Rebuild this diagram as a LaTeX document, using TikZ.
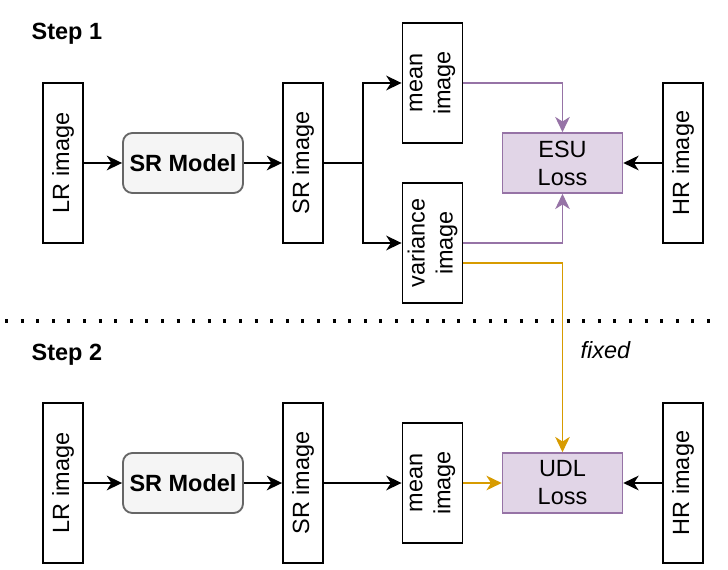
\documentclass[tikz,border=0pt]{standalone}
\usepackage{fontspec}
\setmainfont{Liberation Sans}
\usetikzlibrary{arrows.meta}
\definecolor{pstroke}{HTML}{9673A6}
\definecolor{pfill}{HTML}{E1D5E7}
\definecolor{ostroke}{HTML}{D79B00}
\definecolor{gstroke}{HTML}{666666}
\definecolor{gfill}{HTML}{F5F5F5}
\tikzset{
  every node/.style={font=\fontsize{17.6}{21}\selectfont},
  imgbox/.style={draw=black, line width=1.4pt, minimum width=30pt, minimum height=120pt, inner sep=0pt},
  widebox/.style={draw=black, line width=1.4pt, minimum width=45pt, minimum height=90pt, inner sep=0pt},
  modelbox/.style={draw=gstroke, fill=gfill, line width=1.4pt, rounded corners=7pt, minimum width=90pt, minimum height=45pt, inner sep=0pt, font=\fontsize{17.6}{21}\selectfont\bfseries},
  lossbox/.style={draw=pstroke, fill=pfill, line width=1.2pt, minimum width=90pt, minimum height=45pt, inner sep=0pt, align=center},
  rottext/.style={rotate=90, align=center},
  tip/.style={-{Stealth[length=11.5pt,width=11pt,inset=3.5pt]}},
  arr/.style={draw=black, line width=1.4pt, tip},
  plain/.style={draw=black, line width=1.4pt},
  parr/.style={draw=pstroke, line width=1.2pt, tip},
  oarr/.style={draw=ostroke, line width=1.2pt, tip},
  steplbl/.style={anchor=base west, font=\fontsize{17.6}{21}\selectfont\bfseries},
}
\begin{document}
\begin{tikzpicture}[x=0.75pt, y=-0.75pt]
\useasboundingbox (0,0) rectangle (728,570);

% Step 1
\node[steplbl] (s1) at (27,40) {Step 1};
\node[imgbox] (lr1) at (63,163) {};
\node[rottext] at (lr1) {LR image};
\node[modelbox] (m1) at (183,163) {SR Model};
\node[imgbox] (sr1) at (303,163) {};
\node[rottext] at (sr1) {SR image};
\node[widebox] (mean1) at (432.5,83) {};
\node[rottext] at (mean1) {mean\\image};
\node[widebox] (var1) at (432.5,243) {};
\node[rottext] at (var1) {variance\\image};
\node[lossbox] (esu) at (562.5,163) {ESU\\Loss};
\node[imgbox] (hr1) at (683,163) {};
\node[rottext] at (hr1) {HR image};
\coordinate (br) at (363,163);

\draw[arr] (lr1.east) -- (m1.west);
\draw[arr] (m1.east) -- (sr1.west);
\draw[plain] (sr1.east) -- (br);
\draw[arr] (br) |- (mean1.west);
\draw[arr] (br) |- (var1.west);
\draw[parr] (mean1.east) -| (esu.north);
\draw[parr] (var1.east) -| (esu.south);
\draw[arr] (hr1.west) -- (esu.east);

% divider
\coordinate (dl) at (5,321);
\coordinate (dr) at (713,321);
\draw[line width=2.3pt, dash pattern=on 2.3pt off 9.4pt] (dl) -- (dr);

% Step 2
\node[steplbl] (s2) at (27,360) {Step 2};
\node[imgbox] (lr2) at (63,483) {};
\node[rottext] at (lr2) {LR image};
\node[modelbox] (m2) at (183,483) {SR Model};
\node[imgbox] (sr2) at (303,483) {};
\node[rottext] at (sr2) {SR image};
\node[widebox] (mean2) at (432.5,483) {};
\node[rottext] at (mean2) {mean\\image};
\node[lossbox] (udl) at (562.5,483) {UDL\\Loss};
\node[imgbox] (hr2) at (683,483) {};
\node[rottext] at (hr2) {HR image};

\draw[arr] (lr2.east) -- (m2.west);
\draw[arr] (m2.east) -- (sr2.west);
\draw[arr] (sr2.east) -- (mean2.west);
\draw[oarr] (mean2.east) -- (udl.west);
\draw[arr] (hr2.west) -- (udl.east);

\draw[oarr] ([yshift=-15pt]var1.east) -| (udl.north);
\node[anchor=base west, font=\fontsize{17.6}{21}\selectfont\itshape] (fx) at (576,358) {fixed};
\end{tikzpicture}
\end{document}
